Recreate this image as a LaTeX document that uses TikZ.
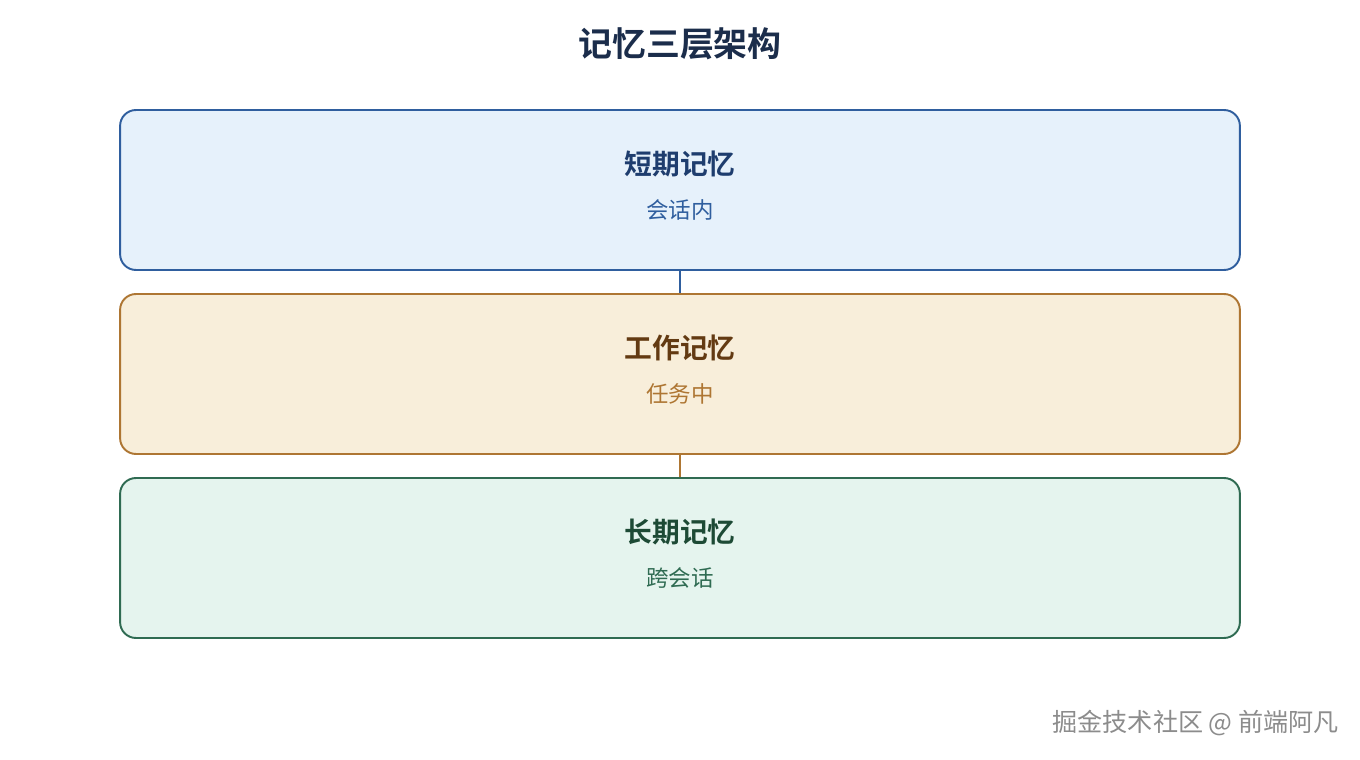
\documentclass[tikz,border=0pt]{standalone}
\usepackage{fontspec}
\setmainfont{Noto Sans CJK SC}[BoldFont={Noto Sans CJK SC Bold}]
\usetikzlibrary{positioning}

\definecolor{mblue-line}{HTML}{2F5E9E}
\definecolor{mblue-fill}{HTML}{E6F1FB}
\definecolor{mblue-head}{HTML}{1E3D6E}
\definecolor{morange-line}{HTML}{AE7633}
\definecolor{morange-fill}{HTML}{F8EEDA}
\definecolor{morange-head}{HTML}{633A12}
\definecolor{mgreen-line}{HTML}{2F6B52}
\definecolor{mgreen-fill}{HTML}{E5F4EE}
\definecolor{mgreen-head}{HTML}{1D4A35}
\definecolor{titlecol}{HTML}{1B2D4B}

\tikzset{
  layerbox/.style={draw, line width=1.1pt, rounded corners=9pt,
    minimum width=22.4cm, minimum height=3.2cm},
  headtext/.style={font=\bfseries\fontsize{15.8}{18}\selectfont},
  subtext/.style={font=\fontsize{12.8}{15}\selectfont},
}

\begin{document}
\begin{tikzpicture}[x=0.02cm,y=-0.02cm]
        \useasboundingbox[fill=white] (0,0) rectangle (1360,760);
        \node[font=\bfseries\fontsize{19.3}{22}\selectfont, text=titlecol] (title) at (680,44) {记忆三层架构};
        \foreach \n/\t/\s/\col [count=\k] in {short/短期记忆/会话内/mblue, work/工作记忆/任务中/morange, long/长期记忆/跨会话/mgreen} {
          \node[layerbox, draw=\col-line, fill=\col-fill] (\n) at (680,{190+184*(\k-1)}) {};
          \node[headtext, text=\col-head] (\n-t) at (680,{164+184*(\k-1)}) {\t};
          \node[subtext, text=\col-line] (\n-s) at (680,{210+184*(\k-1)}) {\s};
        }
        \draw[line width=1.1pt, mblue-line] (short) -- (work);
        \draw[line width=1.1pt, morange-line] (work) -- (long);
        \node[font=\fontsize{14.3}{16}\selectfont, text=black!45, anchor=east] (mark) at (1345,723) {掘金技术社区 @ 前端阿凡};
      \end{tikzpicture}
\end{document}
